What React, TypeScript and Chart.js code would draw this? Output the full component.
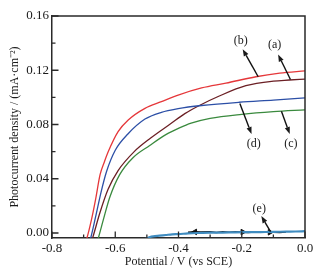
import React, { useEffect, useRef } from 'react';
import { Chart, registerables } from 'chart.js';

Chart.register(...registerables);

// ---- Data (potential in V vs SCE, photocurrent density in mA·cm^-2) ----
const potA = [-0.675, -0.672, -0.649, -0.623, -0.591, -0.54, -0.488, -0.425, -0.38, -0.334, -0.271, -0.187, -0.10, -0.05, 0.0];
const curA = [-0.006, -0.004, 0.0145, 0.032, 0.046, 0.060, 0.070, 0.0805, 0.088, 0.094, 0.101, 0.1086, 0.112, 0.1128, 0.1135];

const potB = [-0.694, -0.690, -0.675, -0.662, -0.648, -0.635, -0.622, -0.591, -0.559, -0.506, -0.454, -0.401, -0.327, -0.25, -0.155, -0.08, 0.0];
const curB = [-0.006, -0.004, 0.010, 0.025, 0.043, 0.052, 0.060, 0.0747, 0.0833, 0.0919, 0.0968, 0.1017, 0.107, 0.1105, 0.1152, 0.1178, 0.1195];

const potC = [-0.657, -0.654, -0.638, -0.617, -0.586, -0.544, -0.491, -0.44, -0.397, -0.36, -0.30, -0.20, -0.10, 0.0];
const curC = [-0.006, -0.004, 0.0095, 0.0265, 0.043, 0.0555, 0.0645, 0.0725, 0.0775, 0.081, 0.0845, 0.0875, 0.0895, 0.0908];

const potD = [-0.681, -0.678, -0.662, -0.645, -0.628, -0.600, -0.56, -0.506, -0.454, -0.401, -0.327, -0.208, -0.10, 0.0];
const curD = [-0.006, -0.004, 0.012, 0.030, 0.045, 0.061, 0.073, 0.084, 0.089, 0.0917, 0.094, 0.0964, 0.098, 0.0996];

const potE = [-0.505, -0.50, -0.49, -0.48, -0.46, -0.44, -0.42, -0.40, -0.37, -0.34, -0.30, -0.26, -0.22, -0.18, -0.14, -0.10, -0.06, -0.03, 0.0];
const curE = [-0.0045, -0.004, -0.003, -0.0025, -0.002, -0.0015, -0.001, -0.0008, -0.0003, 0.0, 0.0002, 0.0003, 0.0005, 0.0006, 0.0007, 0.0008, 0.001, 0.0011, 0.0013];

const potEdark = [-0.37, -0.35, -0.33, -0.30, -0.28, -0.26, -0.24, -0.22, -0.20, -0.18, -0.16, -0.14, -0.12, -0.10, -0.08, -0.06];
const curEdark = [0.0005, 0.0008, 0.0006, 0.0008, 0.0004, 0.0009, 0.0005, 0.0009, 0.0006, 0.0004, 0.0008, 0.0005, 0.0009, 0.0006, 0.0004, 0.0007];

const potEmarks = [-0.348, -0.197, -0.111];
const curEmarks = [0.0008, 0.0007, 0.0005];

// ---- Axes ----
const xMajorTicks = [-0.8, -0.6, -0.4, -0.2, 0.0];
const xMinorTicks = [-0.7, -0.5, -0.3, -0.1];
const yMajorTicks = [0.0, 0.04, 0.08, 0.12, 0.16];
const yMinorTicks = [0.02, 0.06, 0.10, 0.14];

const xTitle = 'Potential / V (vs SCE)';
const yTitle = 'Photocurrent density / (mA·cm⁻²)';

// ---- Annotations: label, label position, arrow tail, arrow tip ----
const annLabels = ['(b)', '(a)', '(d)', '(c)', '(e)'];
const annLabelPos = [[-0.203, 0.1414], [-0.096, 0.1385], [-0.162, 0.066], [-0.0445, 0.066], [-0.1446, 0.0179]];
const annTail = [[-0.148, 0.1152], [-0.046, 0.1132], [-0.206, 0.0955], [-0.0745, 0.0898], [-0.109, 0.001]];
const annTip = [[-0.197, 0.1355], [-0.085, 0.1316], [-0.169, 0.073], [-0.0483, 0.073], [-0.138, 0.0125]];

const FONT = '"Liberation Serif", "Times New Roman", serif';
const INK = '#1a1a1a';
const FRAME = '#2a2a2a';

const toXY = (xs: number[], ys: number[]) => xs.map((x, i) => ({ x, y: ys[i] }));

const decorPlugin = {
  id: 'decor',
  afterDatasetsDraw(chart: any) {
    const { ctx, chartArea, scales } = chart;
    const xs = scales.x;
    const ys = scales.y;
    ctx.save();
    // frame top and right
    ctx.strokeStyle = FRAME;
    ctx.lineWidth = 1.5;
    ctx.beginPath();
    ctx.moveTo(chartArea.left, chartArea.top);
    ctx.lineTo(chartArea.right, chartArea.top);
    ctx.lineTo(chartArea.right, chartArea.bottom);
    ctx.stroke();
    // inward ticks
    ctx.lineWidth = 1.3;
    ctx.beginPath();
    const tickX = (v: number, len: number) => {
      const px = xs.getPixelForValue(v);
      ctx.moveTo(px, chartArea.bottom);
      ctx.lineTo(px, chartArea.bottom - len);
    };
    const tickY = (v: number, len: number) => {
      const py = ys.getPixelForValue(v);
      ctx.moveTo(chartArea.left, py);
      ctx.lineTo(chartArea.left + len, py);
    };
    xMajorTicks.forEach((v) => tickX(v, 6.5));
    xMinorTicks.forEach((v) => tickX(v, 3.5));
    yMajorTicks.forEach((v) => tickY(v, 6.5));
    yMinorTicks.forEach((v) => tickY(v, 3.5));
    ctx.stroke();
    // annotations
    ctx.fillStyle = INK;
    ctx.strokeStyle = '#111111';
    ctx.font = '12px ' + FONT;
    ctx.textAlign = 'center';
    ctx.textBaseline = 'middle';
    annLabels.forEach((t, i) => {
      const lx = xs.getPixelForValue(annLabelPos[i][0]);
      const ly = ys.getPixelForValue(annLabelPos[i][1]);
      ctx.fillText(t, lx, ly);
      const tx = xs.getPixelForValue(annTail[i][0]);
      const ty = ys.getPixelForValue(annTail[i][1]);
      const hx = xs.getPixelForValue(annTip[i][0]);
      const hy = ys.getPixelForValue(annTip[i][1]);
      const ang = Math.atan2(hy - ty, hx - tx);
      const hl = 7;
      const hw = 2.6;
      const bx = hx - hl * Math.cos(ang);
      const by = hy - hl * Math.sin(ang);
      ctx.lineWidth = 1.4;
      ctx.beginPath();
      ctx.moveTo(tx, ty);
      ctx.lineTo(bx, by);
      ctx.stroke();
      ctx.beginPath();
      ctx.moveTo(hx, hy);
      ctx.lineTo(bx + hw * Math.sin(ang), by - hw * Math.cos(ang));
      ctx.lineTo(bx - hw * Math.sin(ang), by + hw * Math.cos(ang));
      ctx.closePath();
      ctx.fill();
    });
    ctx.restore();
  },
};

export default function App() {
  const ref = useRef<HTMLCanvasElement | null>(null);

  useEffect(() => {
    if (!ref.current) return;
    Chart.defaults.font.family = FONT;
    Chart.defaults.color = INK;
    const lineDs = (label: string, xs: number[], ys: number[], color: string, width = 1.3) => ({
      label,
      data: toXY(xs, ys),
      borderColor: color,
      backgroundColor: color,
      borderWidth: width,
      pointRadius: 0,
      fill: false,
      cubicInterpolationMode: 'monotone' as const,
    });
    const chart = new Chart(ref.current, {
      type: 'line',
      data: {
        datasets: [
          lineDs('(e)', potE, curE, '#3f8cc0', 2.2),
          { ...lineDs('(e) dark', potEdark, curEdark, '#111111', 1.6), cubicInterpolationMode: 'default', tension: 0 },
          lineDs('(c)', potC, curC, '#3a8a3e'),
          lineDs('(d)', potD, curD, '#2c4fa6'),
          lineDs('(a)', potA, curA, '#6b1f24'),
          lineDs('(b)', potB, curB, '#e5373a'),
          {
            label: '(e) marks',
            data: toXY(potEmarks, curEmarks),
            showLine: false,
            pointStyle: 'triangle',
            pointRadius: 3.2,
            rotation: [-90, 90, 90],
            borderColor: '#111111',
            backgroundColor: '#111111',
            borderWidth: 1,
          } as any,
        ],
      },
      options: {
        animation: false,
        responsive: false,
        devicePixelRatio: 1,
        layout: { padding: { top: 16, right: 24, left: 0, bottom: 0 } },
        plugins: {
          legend: { display: false },
          tooltip: { enabled: false },
        },
        scales: {
          x: {
            type: 'linear',
            min: -0.8,
            max: 0.0,
            afterBuildTicks: (s: any) => {
              s.ticks = xMajorTicks.map((v) => ({ value: v }));
            },
            afterFit: (s: any) => {
              s.height = 36;
            },
            grid: { display: false, drawTicks: false },
            border: { display: true, color: FRAME, width: 1.5 },
            ticks: {
              padding: 3,
              color: INK,
              font: { size: 13, family: FONT },
              maxRotation: 0,
              callback: (v: any) => Number(v).toFixed(1),
            },
            title: {
              display: true,
              text: xTitle,
              color: INK,
              font: { size: 12, family: FONT },
              padding: { top: 0, bottom: 5 },
            },
          },
          y: {
            type: 'linear',
            min: -0.0037,
            max: 0.16,
            afterBuildTicks: (s: any) => {
              s.ticks = yMajorTicks.map((v) => ({ value: v }));
            },
            afterFit: (s: any) => {
              s.width = 52;
            },
            grid: { display: false, drawTicks: false },
            border: { display: true, color: FRAME, width: 1.5 },
            ticks: {
              padding: 3,
              color: INK,
              font: { size: 13, family: FONT },
              callback: (v: any) => Number(v).toFixed(2),
            },
            title: {
              display: true,
              text: yTitle,
              color: INK,
              font: { size: 12, family: FONT },
              padding: { top: 8, bottom: 0 },
            },
          },
        },
      },
      plugins: [decorPlugin],
    });
    return () => chart.destroy();
  }, []);

  return (
    <div style={{ position: 'absolute', left: 0, top: 0, width: 329, height: 274, background: '#ffffff' }}>
      <canvas ref={ref} width={329} height={274} style={{ width: 329, height: 274, display: 'block' }} />
    </div>
  );
}
